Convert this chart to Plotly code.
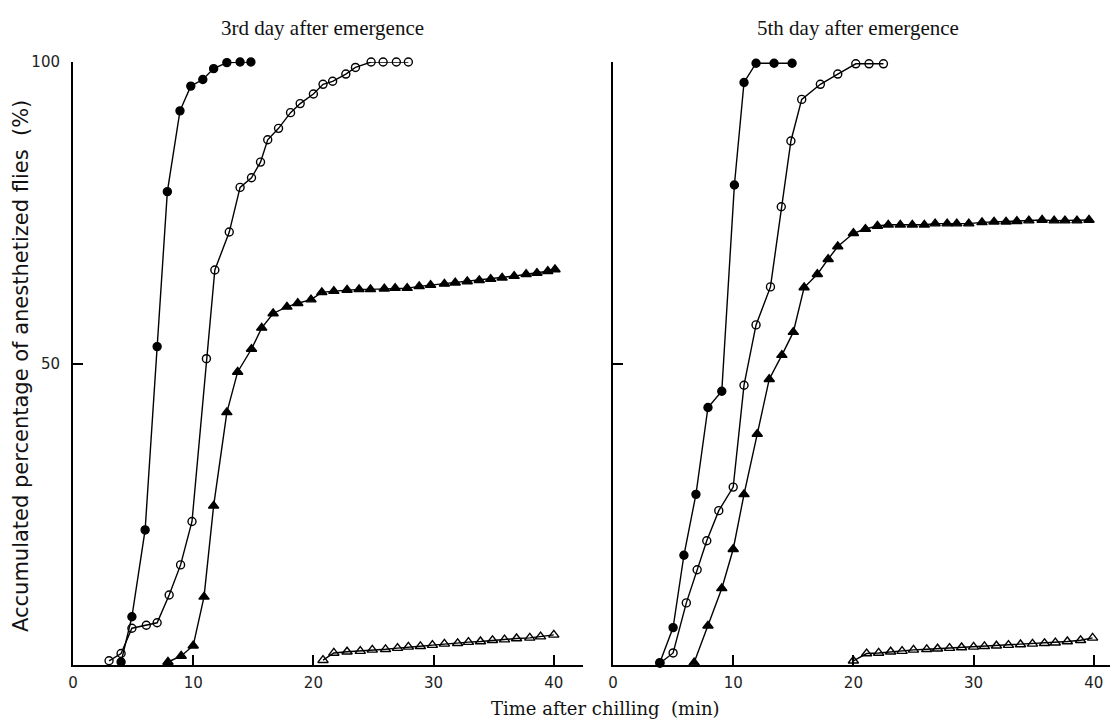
import plotly.graph_objects as go

# ---------------- data ----------------
# 3rd day after emergence
d3_fc_t = [4.0, 4.9, 6.0, 7.0, 7.85, 8.9, 9.8, 10.8, 11.7, 12.8, 13.9, 14.8]
d3_fc_y = [0.5, 8.0, 22.4, 52.8, 78.5, 91.9, 96.0, 97.1, 98.9, 99.9, 100, 100]

d3_oc_t = [3.0, 4.0, 4.9, 6.1, 7.0, 8.0, 8.95, 9.9, 11.1, 11.8, 13.0, 13.9, 14.85, 15.6,
           16.2, 17.1, 18.1, 18.9, 20.0, 20.8, 21.6, 22.7, 23.5, 24.8, 25.8, 26.9, 27.9]
d3_oc_y = [0.7, 1.9, 6.1, 6.6, 7.0, 11.6, 16.6, 23.8, 50.8, 65.5, 71.8, 79.2, 80.8, 83.4,
           87.1, 89.0, 91.6, 93.1, 94.7, 96.3, 96.8, 98.0, 99.1, 100, 100, 100, 100]

d3_ft_t = [7.9, 9.0, 10.0, 10.9, 11.7, 12.8, 13.7, 14.85, 15.7, 16.65, 17.8, 18.7, 19.8,
           20.7, 21.7, 22.8, 23.8, 24.75, 25.9, 26.8, 27.8, 28.8, 29.75, 30.9, 31.8, 32.8,
           33.8, 34.75, 35.7, 36.7, 37.7, 38.6, 39.5, 40.1]
d3_ft_y = [0.5, 1.5, 3.2, 11.3, 26.4, 41.9, 48.6, 52.4, 55.9, 58.3, 59.4, 60.0, 60.6,
           61.8, 62.0, 62.2, 62.3, 62.3, 62.4, 62.5, 62.5, 62.8, 63.0, 63.2, 63.4, 63.6,
           63.8, 64.0, 64.2, 64.5, 64.8, 65.0, 65.3, 65.6]

d3_ot_t = [20.8, 21.7, 22.8, 23.9, 24.9, 26.0, 27.0, 27.9, 28.9, 29.9, 30.9, 32.0, 32.9,
           33.9, 34.9, 35.9, 36.9, 38.0, 38.9, 40.0]
d3_ot_y = [0.8, 2.0, 2.2, 2.3, 2.5, 2.6, 2.8, 3.0, 3.1, 3.3, 3.5, 3.6, 3.8,
           3.9, 4.1, 4.2, 4.4, 4.5, 4.7, 5.0]

# 5th day after emergence
d5_fc_t = [3.9, 5.0, 5.9, 6.9, 7.9, 9.05, 10.1, 10.9, 11.9, 13.4, 14.9]
d5_fc_y = [0.4, 6.2, 18.2, 28.3, 42.7, 45.4, 79.6, 96.6, 99.8, 99.8, 99.8]

d5_oc_t = [3.9, 5.0, 6.1, 7.0, 7.8, 8.8, 10.0, 10.9, 11.9, 13.1, 14.0, 14.8, 15.7, 17.25,
           18.7, 20.2, 21.3, 22.5]
d5_oc_y = [0.3, 2.0, 10.3, 15.8, 20.6, 25.6, 29.5, 46.4, 56.4, 62.7, 76.0, 86.9, 93.8, 96.3,
           98.0, 99.7, 99.7, 99.7]

d5_ft_t = [6.75, 7.9, 9.05, 10.0, 10.9, 12.0, 13.0, 14.05, 15.0, 15.9, 17.0, 17.9, 18.7,
           20.0, 21.0, 22.0, 22.9, 23.9, 24.9, 25.9, 26.8, 27.8, 28.6, 29.6, 30.7, 31.7,
           32.7, 33.6, 34.6, 35.7, 36.7, 37.6, 38.6, 39.6]
d5_ft_y = [0.4, 6.5, 12.7, 19.2, 28.3, 38.3, 47.4, 51.4, 55.2, 62.6, 64.8, 67.3, 69.4,
           71.6, 72.3, 72.8, 73.0, 73.0, 73.0, 73.0, 73.2, 73.2, 73.2, 73.2, 73.4, 73.5,
           73.5, 73.6, 73.7, 73.8, 73.7, 73.7, 73.7, 73.8]

d5_ot_t = [20.0, 21.1, 22.1, 23.1, 24.05, 25.0, 26.1, 27.0, 28.0, 29.0, 30.0, 30.9, 31.9,
           32.9, 33.9, 34.9, 35.9, 36.8, 37.8, 38.9, 39.9]
d5_ot_y = [0.7, 1.9, 2.0, 2.2, 2.3, 2.5, 2.6, 2.7, 2.8, 2.9, 3.0, 3.1, 3.2,
           3.3, 3.4, 3.5, 3.6, 3.7, 3.9, 4.1, 4.5]

x_ticks = [0, 10, 20, 30, 40]
y_ticks = [50, 100]

titles = ["3rd day after emergence", "5th day after emergence"]
x_title = "Time after chilling  (min)"
y_title = "Accumulated percentage of anesthetized flies  (%)"

# ---------------- figure ----------------
W, H = 1119, 719
OFF = 8  # page body margin offset

def px(p):
    return (p - OFF) / W

def py(p):
    return 1 - (p - OFF) / H

fig = go.Figure()

def add(t, y, symbol, xa, ya, msize):
    fig.add_trace(go.Scatter(
        x=t, y=y, mode="lines+markers", xaxis=xa, yaxis=ya,
        line=dict(color="black", width=1.4),
        marker=dict(symbol=symbol, size=msize, color="black",
                    line=dict(color="black", width=1.4)),
        cliponaxis=False, showlegend=False, hoverinfo="skip"))

add(d3_ft_t, d3_ft_y, "triangle-up", "x", "y", 9)
add(d3_ot_t, d3_ot_y, "triangle-up-open", "x", "y", 9)
add(d3_oc_t, d3_oc_y, "circle-open", "x", "y", 8)
add(d3_fc_t, d3_fc_y, "circle", "x", "y", 8)

add(d5_ft_t, d5_ft_y, "triangle-up", "x2", "y2", 9)
add(d5_ot_t, d5_ot_y, "triangle-up-open", "x2", "y2", 9)
add(d5_oc_t, d5_oc_y, "circle-open", "x2", "y2", 8)
add(d5_fc_t, d5_fc_y, "circle", "x2", "y2", 8)

# target pixel layout in the screenshot
y0_px, y100_px = 665, 62
ydom = [py(y0_px), py(y100_px)]
xl0, xl1 = 73, 583
xr0, xr1 = 613, 1110
ppu = 12.02

axis_common = dict(showgrid=False, zeroline=False, showline=True, linecolor="black",
                   linewidth=2, ticks="inside", ticklen=10, tickwidth=1.6,
                   tickcolor="black", automargin=False,
                   tickfont=dict(family="DejaVu Sans", size=15, color="#222"))

fig.update_layout(
    width=W, height=H, margin=dict(l=0, r=0, t=0, b=0),
    paper_bgcolor="white", plot_bgcolor="white",
    xaxis=dict(domain=[px(xl0), px(xl1)], range=[0, (xl1 - xl0) / ppu],
               tickvals=x_ticks, anchor="y", ticklabelstandoff=3, **axis_common),
    yaxis=dict(domain=ydom, range=[0, 100], tickvals=y_ticks, anchor="x",
               ticklabelstandoff=8, **axis_common),
    xaxis2=dict(domain=[px(xr0), px(xr1)], range=[0, (xr1 - xr0) / ppu],
                tickvals=x_ticks, anchor="y2", ticklabelstandoff=3, **axis_common),
    yaxis2=dict(domain=ydom, range=[0, 100], tickvals=y_ticks, showticklabels=False,
                anchor="x2", **axis_common),
)

serif = "Liberation Serif"
common_ann = dict(xref="paper", yref="paper", showarrow=False,
                  xanchor="center", yanchor="middle")
fig.add_annotation(text=titles[0], x=px(322), y=py(28),
                   font=dict(family=serif, size=21, color="#111"), **common_ann)
fig.add_annotation(text=titles[1], x=px(858), y=py(28),
                   font=dict(family=serif, size=21, color="#111"), **common_ann)
fig.add_annotation(text=x_title, x=px(605), y=py(708),
                   font=dict(family="DejaVu Serif", size=18, color="#111"), **common_ann)
fig.add_annotation(text=y_title, x=px(21), y=py(366), textangle=-90,
                   font=dict(family="DejaVu Sans", size=21, color="#111"), **common_ann)

fig.write_html("out.html")
